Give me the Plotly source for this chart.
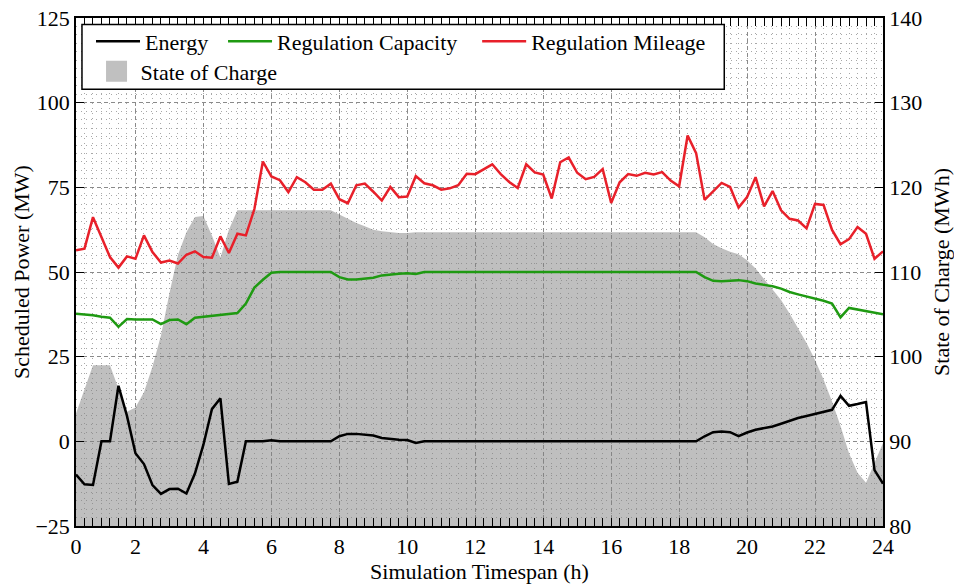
import plotly.graph_objects as go

# Quarter-hour timestamps (h) of the schedule
hours = [0.25 * i for i in range(1, 97)]

energy = [
    -9.8, -12.7, -12.9, 0.0, 0.0, 16.4, 7.5, -3.5, -6.7, -12.9,
    -15.5, -14.1, -14.0, -15.4, -9.5, -1.0, 9.5, 12.7, -12.6, -11.9,
    0.0, 0.0, 0.0, 0.3, 0.0, 0.0, 0.0, 0.0, 0.0, 0.0,
    0.0, 1.5, 2.2, 2.2, 2.0, 1.7, 1.0, 0.7, 0.5, 0.4,
    -0.5, 0.0, 0.0, 0.0, 0.0, 0.0, 0.0, 0.0, 0.0, 0.0,
    0.0, 0.0, 0.0, 0.0, 0.0, 0.0, 0.0, 0.0, 0.0, 0.0,
    0.0, 0.0, 0.0, 0.0, 0.0, 0.0, 0.0, 0.0, 0.0, 0.0,
    0.0, 0.0, 0.0, 0.0, 1.5, 2.7, 2.9, 2.7, 1.5, 2.6,
    3.4, 3.8, 4.4, 5.2, 6.1, 6.9, 7.5, 8.1, 8.6, 9.3,
    13.4, 10.5, 11.0, 11.6, -8.5, -12.5,
]

reg_capacity = [
    37.7, 37.5, 37.2, 36.8, 36.5, 33.8, 36.1, 36.0, 36.0, 36.0,
    34.6, 35.8, 36.0, 34.6, 36.5, 36.8, 37.0, 37.3, 37.5, 37.9,
    40.7, 45.4, 47.7, 49.8, 50.0, 50.0, 50.0, 50.0, 50.0, 50.0,
    50.0, 48.5, 47.8, 47.8, 48.0, 48.3, 49.0, 49.3, 49.5, 49.6,
    49.4, 50.0, 50.0, 50.0, 50.0, 50.0, 50.0, 50.0, 50.0, 50.0,
    50.0, 50.0, 50.0, 50.0, 50.0, 50.0, 50.0, 50.0, 50.0, 50.0,
    50.0, 50.0, 50.0, 50.0, 50.0, 50.0, 50.0, 50.0, 50.0, 50.0,
    50.0, 50.0, 50.0, 50.0, 48.5, 47.4, 47.3, 47.5, 47.6, 47.3,
    46.6, 46.2, 45.8, 45.1, 44.1, 43.4, 42.8, 42.2, 41.5, 40.7,
    36.6, 39.4, 38.9, 38.4, 37.9, 37.5,
]

reg_mileage = [
    56.4, 56.9, 66.2, 60.3, 54.4, 51.3, 54.6, 53.9, 60.8, 55.9,
    52.8, 53.4, 52.5, 55.1, 56.1, 54.4, 54.2, 60.5, 55.6, 61.3,
    60.8, 68.6, 82.6, 78.2, 77.1, 73.6, 78.0, 76.5, 74.3, 74.3,
    76.1, 71.5, 70.3, 75.6, 76.1, 73.7, 71.1, 75.1, 72.1, 72.3,
    78.3, 76.2, 75.6, 74.3, 74.7, 75.6, 79.0, 78.9, 80.3, 81.8,
    78.9, 76.6, 74.8, 81.8, 79.4, 78.8, 71.7, 82.4, 83.8, 79.3,
    77.4, 78.1, 80.4, 70.4, 76.5, 78.9, 78.4, 79.3, 78.8, 79.5,
    77.0, 75.3, 90.3, 85.1, 71.3, 73.8, 76.3, 75.1, 69.0, 72.1,
    78.0, 69.4, 73.9, 68.2, 65.7, 65.2, 62.9, 70.1, 69.8, 62.4,
    58.2, 59.7, 63.3, 61.3, 53.9, 56.1,
]

state_of_charge = [
    93.3, 96.2, 99.0, 99.0, 99.0, 96.2, 93.5, 94.0, 95.8, 98.8,
    102.5, 107.5, 112.0, 114.7, 116.5, 116.6, 114.3, 111.7, 115.0, 117.3,
    117.3, 117.3, 117.3, 117.3, 117.3, 117.3, 117.3, 117.3, 117.3, 117.3,
    117.3, 116.8, 116.3, 115.8, 115.4, 115.0, 114.8, 114.7, 114.6, 114.6,
    114.7, 114.7, 114.7, 114.7, 114.7, 114.7, 114.7, 114.7, 114.7, 114.7,
    114.7, 114.7, 114.7, 114.7, 114.7, 114.7, 114.7, 114.7, 114.7, 114.7,
    114.7, 114.7, 114.7, 114.7, 114.7, 114.7, 114.7, 114.7, 114.7, 114.7,
    114.7, 114.7, 114.7, 114.7, 114.1, 113.3, 112.8, 112.4, 112.1, 111.4,
    110.4, 109.2, 108.0, 106.7, 105.1, 103.4, 101.6, 99.6, 97.3, 94.7,
    91.8, 88.6, 86.3, 85.1, 87.5, 89.8,
]

x_tick_vals = [0.25] + list(range(2, 25, 2))
x_tick_text = [str(v) for v in range(0, 25, 2)]

FONT = "'Liberation Serif', 'Times New Roman', Tinos, 'DejaVu Serif', serif"
FS = 22
SOC_GRAY = "rgba(128,128,128,0.5)"

fig = go.Figure()

# State of charge as a filled area on the right-hand axis (drawn underneath)
fig.add_trace(go.Scatter(
    x=hours, y=state_of_charge, name="State of Charge", yaxis="y",
    mode="lines", line=dict(width=0, color=SOC_GRAY),
    fill="tozeroy", fillcolor=SOC_GRAY, showlegend=False,
))

# Scheduled power lines on the left-hand axis
fig.add_trace(go.Scatter(
    x=hours, y=energy, name="Energy", yaxis="y2", mode="lines",
    line=dict(color="black", width=2.5), legend="legend",
))
fig.add_trace(go.Scatter(
    x=hours, y=reg_capacity, name="Regulation Capacity", yaxis="y2", mode="lines",
    line=dict(color="#1f9a12", width=2.5), legend="legend3",
))
fig.add_trace(go.Scatter(
    x=hours, y=reg_mileage, name="Regulation Mileage", yaxis="y2", mode="lines",
    line=dict(color="#e8202a", width=2.5), legend="legend4",
))

# Square swatch for the state-of-charge legend entry
fig.add_trace(go.Scatter(
    x=[None], y=[None], name="State of Charge", yaxis="y", mode="markers",
    marker=dict(symbol="square", size=16, color="#c0c0c0",
                line=dict(color="#c0c0c0", width=5)),
    legend="legend2", hoverinfo="skip",
))

grid_major = "#8a8a8a"
grid_minor = "#a8a8a8"
DASH_MAJOR = "4px,3px"
DASH_MINOR = "1px,4px"

legend_common = dict(
    orientation="h", xanchor="left", yanchor="top",
    bgcolor="rgba(0,0,0,0)", borderwidth=0,
    font=dict(family=FONT, size=FS, color="black"),
)
ROW1_Y = 0.995
ROW2_Y = 0.936

fig.update_layout(
    width=954, height=586,
    margin=dict(l=76, r=71, t=18, b=60),
    paper_bgcolor="white", plot_bgcolor="white",
    font=dict(family=FONT, size=FS, color="black"),
    showlegend=True,
    legend=dict(x=0.0186, y=ROW1_Y, itemwidth=44, **legend_common),
    legend3=dict(x=0.1822, y=ROW1_Y, itemwidth=44, **legend_common),
    legend4=dict(x=0.4971, y=ROW1_Y, itemwidth=44, **legend_common),
    legend2=dict(x=0.0205, y=ROW2_Y, itemwidth=38, **legend_common),
    # white frame that holds the legend entries
    shapes=[dict(
        type="rect", xref="paper", yref="paper",
        x0=0.0074, x1=0.8033, y0=0.8595, y1=0.9872,
        fillcolor="white", line=dict(color="black", width=1.5), layer="above",
    )],
    xaxis=dict(
        range=[0.25, 24], tickmode="array", tickvals=x_tick_vals, ticktext=x_tick_text,
        ticks="inside", ticklen=8, tickwidth=1.2, tickcolor="black",
        showline=True, linecolor="black", linewidth=1.5, mirror="allticks",
        showgrid=True, gridcolor=grid_major, griddash=DASH_MAJOR, gridwidth=1,
        zeroline=False, automargin=False,
        minor=dict(tickmode="linear", tick0=0, dtick=0.25, ticks="inside", ticklen=4,
                   tickcolor="black", tickwidth=1,
                   showgrid=True, gridcolor=grid_minor, griddash=DASH_MINOR, gridwidth=1),
        title=dict(text="Simulation Timespan (h)", standoff=5,
                   font=dict(family=FONT, size=FS)),
        tickfont=dict(family=FONT, size=FS),
    ),
    yaxis=dict(
        range=[80, 140], dtick=10, side="right",
        ticks="inside", ticklen=8, tickcolor="black",
        showline=True, linecolor="black", linewidth=1.5,
        showgrid=False, zeroline=False, automargin=False,
        title=dict(text="State of Charge (MWh)", standoff=12,
                   font=dict(family=FONT, size=FS)),
        tickfont=dict(family=FONT, size=FS),
    ),
    yaxis2=dict(
        range=[-25, 125], dtick=25, tick0=0, side="left", overlaying="y",
        ticks="inside", ticklen=8, tickcolor="black",
        showline=True, linecolor="black", linewidth=1.5,
        showgrid=True, gridcolor=grid_major, griddash=DASH_MAJOR, gridwidth=1,
        zeroline=False, automargin=False,
        minor=dict(tick0=0, dtick=2.5, showgrid=True, gridcolor=grid_minor,
                   griddash=DASH_MINOR, gridwidth=1),
        title=dict(text="Scheduled Power (MW)", standoff=0,
                   font=dict(family=FONT, size=FS)),
        tickfont=dict(family=FONT, size=FS),
    ),
)

fig.write_html("out.html")
